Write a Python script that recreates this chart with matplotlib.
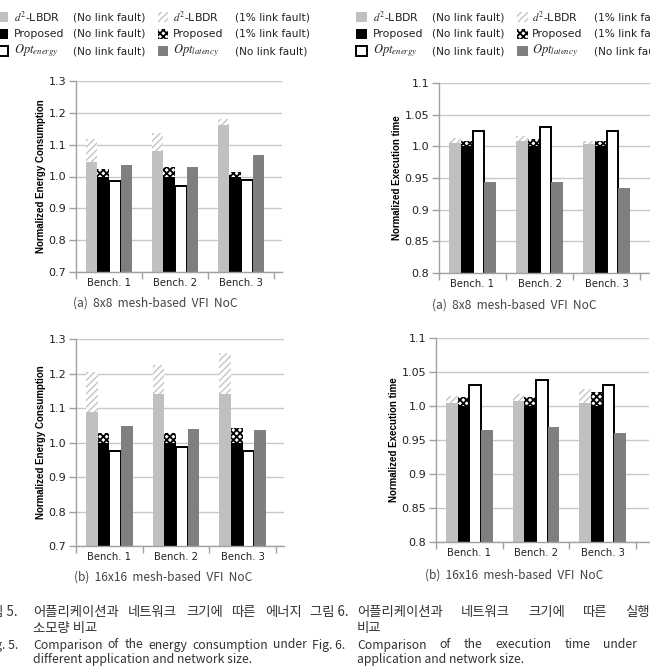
import numpy as np
import matplotlib
matplotlib.use("Agg")
import matplotlib.pyplot as plt
from matplotlib.patches import Rectangle

W, H = 650, 669

benches = ["Bench. 1", "Bench. 2", "Bench. 3"]

# energy, 8x8 mesh
e8_d2 = [1.046, 1.080, 1.163]
e8_d2_fault = [1.117, 1.138, 1.182]
e8_prop = [1.0, 1.0, 1.0]
e8_prop_fault = [1.025, 1.029, 1.015]
e8_opt_energy = [0.987, 0.970, 0.989]
e8_opt_latency = [1.036, 1.029, 1.066]

# energy, 16x16 mesh
e16_d2 = [1.089, 1.140, 1.140]
e16_d2_fault = [1.205, 1.224, 1.258]
e16_prop = [1.0, 1.0, 1.0]
e16_prop_fault = [1.028, 1.028, 1.042]
e16_opt_energy = [0.975, 0.987, 0.975]
e16_opt_latency = [1.047, 1.038, 1.036]

# execution time, 8x8 mesh
t8_d2 = [1.0045, 1.008, 1.004]
t8_d2_fault = [1.013, 1.017, 1.009]
t8_prop = [1.0, 1.0, 1.0]
t8_prop_fault = [1.009, 1.012, 1.009]
t8_opt_energy = [1.0245, 1.031, 1.0245]
t8_opt_latency = [0.944, 0.944, 0.934]

# execution time, 16x16 mesh
t16_d2 = [1.004, 1.008, 1.004]
t16_d2_fault = [1.015, 1.018, 1.0245]
t16_prop = [1.0, 1.0, 1.0]
t16_prop_fault = [1.013, 1.013, 1.021]
t16_opt_energy = [1.031, 1.038, 1.031]
t16_opt_latency = [0.965, 0.969, 0.961]

energy_ticks = [0.7, 0.8, 0.9, 1.0, 1.1, 1.2, 1.3]
energy_labels = ["0.7", "0.8", "0.9", "1.0", "1.1", "1.2", "1.3"]
time_ticks = [0.8, 0.85, 0.9, 0.95, 1.0, 1.05, 1.1]
time_labels = ["0.8", "0.85", "0.9", "0.95", "1.0", "1.05", "1.1"]

plt.rcParams["font.family"] = "DejaVu Sans"
plt.rcParams["mathtext.fontset"] = "stix"
plt.rcParams["hatch.linewidth"] = 1.0

LIGHT = "#c0c0c0"
DARK = "#7f7f7f"
GRID = "#c8c8c8"
AXC = "#a0a0a0"
BODY_FONT = ["Liberation Sans Narrow", "Noto Sans CJK KR"]
DIAG = dict(facecolor="white", edgecolor="#c4c4c4", linewidth=0, hatch="/////")
CHECK = dict(facecolor="white", edgecolor="black", linewidth=0, hatch="xxxxx")

fig = plt.figure(figsize=(W / 100, H / 100), dpi=100)


def fx(x):
    return x / W


def fy(y):
    return 1 - y / H


def add_axes(left, top, bottom, cat_w, extra):
    width = (3 + extra) * cat_w
    return fig.add_axes([fx(left), fy(bottom), width / W, (bottom - top) / H])


def draw_panel(ax, d2, d2_f, prop, prop_f, opt_e, opt_l, ticks, labels, ylabel, extra):
    x = np.arange(len(benches))
    w = 0.175
    ax.bar(x - 1.5 * w, d2, w, color=LIGHT, linewidth=0)
    ax.bar(x - 1.5 * w, np.subtract(d2_f, d2), w, bottom=d2, **DIAG)
    ax.bar(x - 0.5 * w, prop, w, color="black", linewidth=0)
    with plt.rc_context({"hatch.linewidth": 1.3}):
        ax.bar(x - 0.5 * w, np.subtract(prop_f, prop), w, bottom=prop, **CHECK)
    ax.bar(x + 0.5 * w, opt_e, w, color="white", edgecolor="black", linewidth=1.4)
    ax.bar(x + 1.5 * w, opt_l, w, color=DARK, linewidth=0)

    ax.set_ylim(ticks[0], ticks[-1])
    ax.set_yticks(ticks)
    ax.set_yticklabels(labels, fontsize=8, color="#222")
    ax.set_xlim(-0.5, 2.5 + extra)
    ax.set_xticks(x)
    ax.set_xticklabels(benches, fontsize=7.2, color="#222")
    ax.set_xticks([-0.5, 0.5, 1.5, 2.5], minor=True)
    ax.tick_params(axis="x", which="major", length=0, pad=4)
    ax.tick_params(axis="x", which="minor", length=5, color=AXC, width=1)
    ax.tick_params(axis="y", length=5, color=AXC, width=1, pad=2)
    ax.yaxis.grid(True, color=GRID, linewidth=1)
    ax.set_axisbelow(True)
    for s in ["top", "right"]:
        ax.spines[s].set_visible(False)
    for s in ["left", "bottom"]:
        ax.spines[s].set_color(AXC)
        ax.spines[s].set_linewidth(1)
    ax.set_ylabel(ylabel, fontsize=7.0, fontweight="bold",
                  family="Liberation Sans", labelpad=2)


ax1 = add_axes(76, 81, 272, 66, 0.12)
draw_panel(ax1, e8_d2, e8_d2_fault, e8_prop, e8_prop_fault, e8_opt_energy,
           e8_opt_latency, energy_ticks, energy_labels,
           "Normalized Energy Consumption", 0.12)
ax2 = add_axes(76, 339, 546, 66.7, 0.12)
draw_panel(ax2, e16_d2, e16_d2_fault, e16_prop, e16_prop_fault, e16_opt_energy,
           e16_opt_latency, energy_ticks, energy_labels,
           "Normalized Energy Consumption", 0.12)
ax3 = add_axes(439, 83, 273, 67, 0.2)
draw_panel(ax3, t8_d2, t8_d2_fault, t8_prop, t8_prop_fault, t8_opt_energy,
           t8_opt_latency, time_ticks, time_labels,
           "Normalized Execution time", 0.2)
ax4 = add_axes(436, 338, 542, 66.7, 0.2)
draw_panel(ax4, t16_d2, t16_d2_fault, t16_prop, t16_prop_fault, t16_opt_energy,
           t16_opt_latency, time_ticks, time_labels,
           "Normalized Execution time", 0.2)

# legends (drawn by hand, one per column; the right one runs off the page edge)
leg_names = [[r"$d^2$-LBDR", "Proposed", r"$Opt_{energy}$"],
             [r"$d^2$-LBDR", "Proposed", r"$Opt_{latency}$"]]
leg_faults = [["(No link fault)", "(No link fault)", "(No link fault)"],
              ["(1% link fault)", "(1% link fault)", "(No link fault)"]]
leg_styles = [[dict(facecolor=LIGHT, linewidth=0),
               dict(facecolor="black", linewidth=0),
               dict(facecolor="white", edgecolor="black", linewidth=1.4)],
              [DIAG, CHECK, dict(facecolor=DARK, linewidth=0)]]

for shift in [0, 359]:
    for col, (sx, nx, fx_) in enumerate([(-3, 14, 73), (158, 173, 235)]):
        for row, yy in enumerate([17, 34, 51]):
            with plt.rc_context({"hatch.linewidth": 1.3 if row == 1 else 1.0}):
                fig.patches.append(Rectangle((fx(sx + shift), fy(yy + 4.5)), 10.5 / W, 9 / H,
                                             transform=fig.transFigure, figure=fig,
                                             **leg_styles[col][row]))
            name = leg_names[col][row]
            fig.text(fx(nx + shift), fy(yy), name, fontsize=9 if "Opt" in name else 7.8,
                     va="center", color="#222")
            fig.text(fx(fx_ + shift), fy(yy), leg_faults[col][row], fontsize=7.6,
                     va="center", color="#222")

# sub captions
cap_kw = dict(fontsize=8.6, ha="center", va="center", color="#444", family=BODY_FONT)
fig.text(fx(155), fy(303), "(a)  8x8  mesh-based  VFI  NoC", **cap_kw)
fig.text(fx(514), fy(305), "(a)  8x8  mesh-based  VFI  NoC", **cap_kw)
fig.text(fx(163), fy(577), "(b)  16x16  mesh-based  VFI  NoC", **cap_kw)
fig.text(fx(514), fy(575), "(b)  16x16  mesh-based  VFI  NoC", **cap_kw)

ko_kw = dict(fontsize=9.6, va="center", color="#333", family=BODY_FONT)
en_kw = dict(fontsize=8.8, va="center", color="#333", family=BODY_FONT)


def justify(words, x0, x1, y, kw):
    texts = [fig.text(fx(x0), fy(y), w, **kw) for w in words]
    r = fig.canvas.get_renderer()
    widths = [t.get_window_extent(r).width for t in texts]
    gap = (x1 - x0 - sum(widths)) / (len(words) - 1)
    x = x0
    for t, wd in zip(texts, widths):
        t.set_x(fx(x))
        x += wd + gap


fig.text(fx(-21), fy(612), "그림 5.", **ko_kw)
fig.text(fx(310), fy(612), "그림 6.", **ko_kw)
fig.text(fx(-15), fy(645), "Fig. 5.", **en_kw)
fig.text(fx(312), fy(645), "Fig. 6.", **en_kw)

justify("어플리케이션과 네트워크 크기에 따른 에너지".split(), 33, 302, 612, ko_kw)
justify("어플리케이션과 네트워크 크기에 따른 실행".split(), 357, 650, 612, ko_kw)
fig.text(fx(33), fy(628), "소모량 비교", **ko_kw)
fig.text(fx(357), fy(628), "비교", **ko_kw)
justify("Comparison of the energy consumption under".split(), 33, 307, 645, en_kw)
justify("Comparison of the execution time under".split(), 357, 637, 645, en_kw)
fig.text(fx(33), fy(660), "different application and network size.", **en_kw)
fig.text(fx(357), fy(660), "application and network size.", **en_kw)

fig.savefig("out.png", dpi=100)
